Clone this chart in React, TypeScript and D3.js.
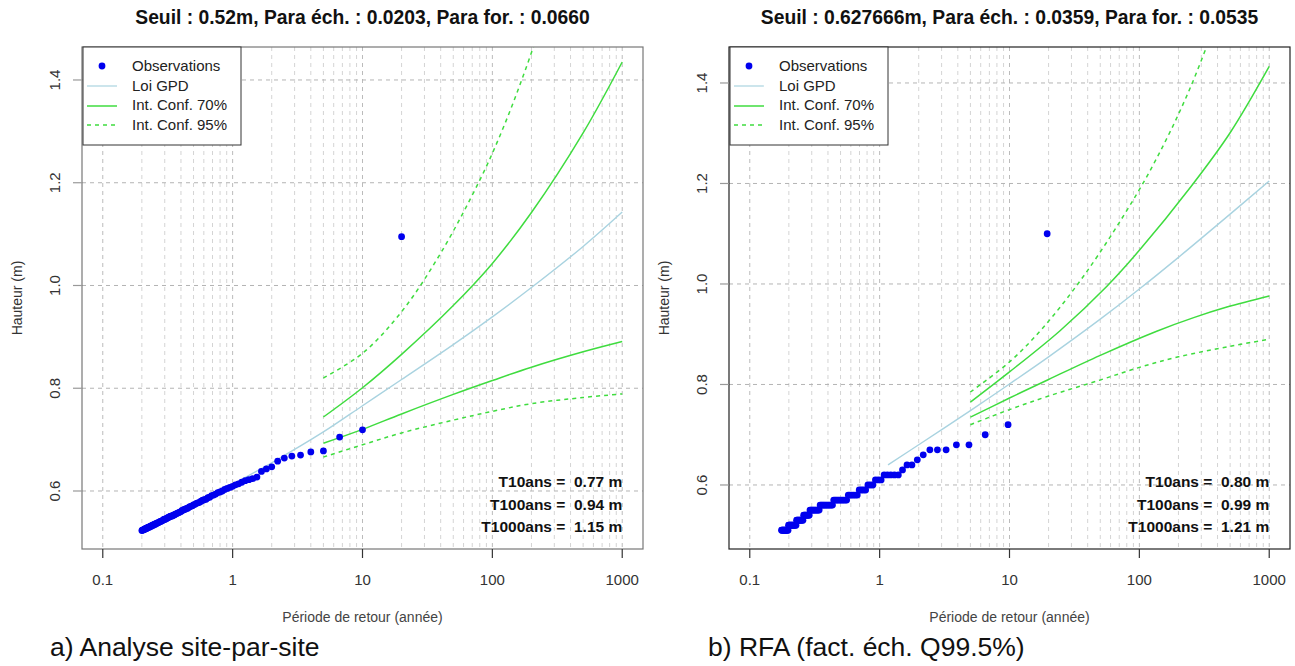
import React from "react";
import * as d3 from "d3";

const W = 1295;
const H = 666;

// axis ticks
const xTicks = [0.1, 1, 10, 100, 1000];
const xTickLabels = ["0.1", "1", "10", "100", "1000"];
const yTicks = [0.6, 0.8, 1.0, 1.2, 1.4];
const yTickLabels = ["0.6", "0.8", "1.0", "1.2", "1.4"];

// ---------- panel a : site-par-site ----------
const titleA = "Seuil : 0.52m, Para éch. : 0.0203, Para for. : 0.0660";
const captionA = "a) Analyse site-par-site";
const yearsA = 20;
const obsA = [
  1.095, 0.719, 0.705, 0.678, 0.676, 0.670, 0.668, 0.664, 0.658, 0.647,
  0.643, 0.638, 0.627, 0.624, 0.622, 0.620, 0.617, 0.614, 0.612, 0.609,
  0.607, 0.605, 0.603, 0.600, 0.598, 0.597, 0.594, 0.592, 0.591, 0.588,
  0.587, 0.584, 0.583, 0.582, 0.580, 0.578, 0.577, 0.576, 0.574, 0.573,
  0.571, 0.570, 0.569, 0.567, 0.566, 0.565, 0.564, 0.563, 0.562, 0.560,
  0.559, 0.558, 0.557, 0.556, 0.555, 0.554, 0.553, 0.552, 0.551, 0.551,
  0.550, 0.549, 0.548, 0.547, 0.546, 0.545, 0.545, 0.544, 0.543, 0.542,
  0.541, 0.541, 0.540, 0.539, 0.538, 0.538, 0.537, 0.536, 0.536, 0.535,
  0.534, 0.534, 0.533, 0.532, 0.532, 0.531, 0.530, 0.530, 0.529, 0.529,
  0.528, 0.527, 0.527, 0.526, 0.526, 0.525, 0.525, 0.524, 0.524, 0.523,
];
const gpdA_T = [0.2, 0.5, 1, 2, 5, 10, 20, 50, 100, 200, 500, 1000];
const gpdA = [0.524, 0.57, 0.613, 0.655, 0.715, 0.766, 0.817, 0.885, 0.939, 0.996, 1.076, 1.143];
const up70A_T = [5, 10, 20, 50, 100, 200, 500, 1000];
const up70A = [0.744, 0.801, 0.866, 0.961, 1.043, 1.142, 1.297, 1.435];
const lo70A_T = [5, 10, 20, 50, 100, 200, 500, 1000];
const lo70A = [0.693, 0.72, 0.75, 0.788, 0.815, 0.841, 0.871, 0.891];
const up95A_T = [5, 10, 20, 40, 80, 115, 160, 214, 250];
const up95A = [0.82, 0.868, 0.949, 1.063, 1.205, 1.293, 1.385, 1.475, 1.528];
const lo95A_T = [5, 10, 20, 50, 100, 200, 500, 1000];
const lo95A = [0.666, 0.69, 0.713, 0.738, 0.755, 0.77, 0.782, 0.789];
const annotA = ["T10ans =  0.77 m", "T100ans =  0.94 m", "T1000ans =  1.15 m"];

// ---------- panel b : RFA ----------
const titleB = "Seuil : 0.627666m, Para éch. : 0.0359, Para for. : 0.0535";
const captionB = "b) RFA (fact. éch. Q99.5%)";
const yearsB = 19.5;
const obsB = [
  1.10, 0.72, 0.70, 0.68, 0.68, 0.67, 0.67, 0.67, 0.66, 0.65,
  0.64, 0.64, 0.63, 0.62, 0.62, 0.62, 0.62, 0.62, 0.61, 0.61,
  0.61, 0.60, 0.60, 0.60, 0.59, 0.59, 0.59, 0.59, 0.58, 0.58,
  0.58, 0.58, 0.58, 0.58, 0.57, 0.57, 0.57, 0.57, 0.57, 0.57,
  0.57, 0.57, 0.57, 0.57, 0.56, 0.56, 0.56, 0.56, 0.56, 0.56,
  0.56, 0.56, 0.56, 0.56, 0.56, 0.56, 0.55, 0.55, 0.55, 0.55,
  0.55, 0.55, 0.55, 0.55, 0.55, 0.55, 0.55, 0.54, 0.54, 0.54,
  0.54, 0.54, 0.54, 0.54, 0.54, 0.53, 0.53, 0.53, 0.53, 0.53,
  0.53, 0.53, 0.53, 0.53, 0.53, 0.52, 0.52, 0.52, 0.52, 0.52,
  0.52, 0.52, 0.52, 0.52, 0.52, 0.52, 0.52, 0.52, 0.51, 0.51,
  0.51, 0.51, 0.51, 0.51, 0.51, 0.51, 0.51, 0.51, 0.51, 0.51,
  0.51,
];
const gpdB_T = [1.16, 2, 5, 10, 20, 50, 100, 200, 500, 1000];
const gpdB = [0.64, 0.68, 0.748, 0.801, 0.855, 0.93, 0.99, 1.053, 1.139, 1.205];
const up70B_T = [5, 10, 24.5, 56, 100, 250, 500, 1000];
const up70B = [0.765, 0.825, 0.907, 0.995, 1.067, 1.194, 1.301, 1.433];
const lo70B_T = [5, 10, 20, 50, 136, 262, 472, 1000];
const lo70B = [0.735, 0.773, 0.81, 0.858, 0.906, 0.933, 0.954, 0.976];
const up95B_T = [5, 10, 17.7, 38, 95, 163, 250, 350];
const up95B = [0.785, 0.845, 0.91, 1.019, 1.178, 1.29, 1.394, 1.49];
const lo95B_T = [5, 10, 20, 50, 100, 200, 500, 1000];
const lo95B = [0.72, 0.75, 0.777, 0.809, 0.834, 0.855, 0.876, 0.89];
const annotB = ["T10ans =  0.80 m", "T100ans =  0.99 m", "T1000ans =  1.21 m"];

const legendLabels = ["Observations", "Loi GPD", "Int. Conf. 70%", "Int. Conf. 95%"];

const BLUE = "#0000ee";
const LIGHTBLUE = "#a9d3e0";
const GREEN = "#3fdc3f";
const FONT = "'Liberation Sans', Arial, sans-serif";

type PanelProps = {
  id: string;
  left: number;
  right: number;
  yLo: number;
  yHi: number;
  title: string;
  caption: string;
  captionX: number;
  years: number;
  obs: number[];
  gpdT: number[];
  gpd: number[];
  up70T: number[];
  up70: number[];
  lo70T: number[];
  lo70: number[];
  up95T: number[];
  up95: number[];
  lo95T: number[];
  lo95: number[];
  annot: string[];
  boxColor: string;
};

const TOP = 47;
const BOTTOM = 549;

function Panel(p: PanelProps) {
  const x = d3
    .scaleLog()
    .domain([Math.pow(10, -1.16), Math.pow(10, 3.16)])
    .range([p.left, p.right]);
  const y = d3.scaleLinear().domain([p.yLo, p.yHi]).range([BOTTOM, TOP]);
  const line = d3
    .line<[number, number]>()
    .x((d) => x(d[0]))
    .y((d) => y(d[1]))
    .curve(d3.curveCatmullRom.alpha(0.5));
  const pts = (ts: number[], vs: number[]) => ts.map((t, i) => [t, vs[i]] as [number, number]);

  const vGrid: number[] = [];
  [0.1, 1, 10, 100].forEach((d) => {
    for (let m = 1; m <= 9; m++) vGrid.push(d * m);
  });
  vGrid.push(1000);

  const cx = (p.left + p.right) / 2;
  const clipId = "clip-" + p.id;
  const lx = p.left + 1;

  return (
    <g fontFamily={FONT}>
      <defs>
        <clipPath id={clipId}>
          <rect x={p.left} y={TOP} width={p.right - p.left} height={BOTTOM - TOP} />
        </clipPath>
      </defs>
      <text x={cx} y={24} textAnchor="middle" fontWeight="bold" fontSize={19.3} fill="#111">
        {p.title}
      </text>
      {/* grid */}
      {vGrid.map((v) => (
        <line
          key={"vg" + v}
          x1={x(v)}
          x2={x(v)}
          y1={TOP}
          y2={BOTTOM}
          stroke={xTicks.includes(v) ? "#bbbbbb" : "#d4d4d4"}
          strokeWidth={1}
          strokeDasharray="4,4"
        />
      ))}
      {yTicks.map((v) => (
        <line
          key={"hg" + v}
          x1={p.left}
          x2={p.right}
          y1={y(v)}
          y2={y(v)}
          stroke="#b4b4b4"
          strokeWidth={1}
          strokeDasharray="4,4"
        />
      ))}
      {/* curves */}
      <g clipPath={`url(#${clipId})`} fill="none">
        <path d={line(pts(p.gpdT, p.gpd)) || ""} stroke={LIGHTBLUE} strokeWidth={1.4} />
        <path d={line(pts(p.up70T, p.up70)) || ""} stroke={GREEN} strokeWidth={1.5} />
        <path d={line(pts(p.lo70T, p.lo70)) || ""} stroke={GREEN} strokeWidth={1.5} />
        <path d={line(pts(p.up95T, p.up95)) || ""} stroke={GREEN} strokeWidth={1.5} strokeDasharray="4,4" />
        <path d={line(pts(p.lo95T, p.lo95)) || ""} stroke={GREEN} strokeWidth={1.5} strokeDasharray="4,4" />
      </g>
      {/* observations */}
      {p.obs.map((v, i) => (
        <circle key={"o" + i} cx={x(p.years / (i + 1))} cy={y(v)} r={3.4} fill={BLUE} />
      ))}
      {/* box */}
      <rect
        x={p.left}
        y={TOP}
        width={p.right - p.left}
        height={BOTTOM - TOP}
        fill="none"
        stroke={p.boxColor}
        strokeWidth={1.2}
      />
      {/* x axis */}
      {xTicks.map((v, i) => (
        <g key={"xt" + v}>
          <line x1={x(v)} x2={x(v)} y1={BOTTOM} y2={BOTTOM + 9} stroke="#333" strokeWidth={1.2} />
          <text x={x(v)} y={585} textAnchor="middle" fontSize={15} fill="#333">
            {xTickLabels[i]}
          </text>
        </g>
      ))}
      <text x={cx} y={622} textAnchor="middle" fontSize={14} fill="#444">
        Période de retour (année)
      </text>
      {/* y axis */}
      {yTicks.map((v, i) => (
        <g key={"yt" + v}>
          <line x1={p.left - 9} x2={p.left} y1={y(v)} y2={y(v)} stroke="#999" strokeWidth={1.2} />
          <text
            transform={`translate(${p.left - 22},${y(v)}) rotate(-90)`}
            textAnchor="middle"
            fontSize={15}
            fill="#333"
          >
            {yTickLabels[i]}
          </text>
        </g>
      ))}
      <text
        transform={`translate(${p.left - 60},${(TOP + BOTTOM) / 2}) rotate(-90)`}
        textAnchor="middle"
        fontSize={14}
        fill="#333"
      >
        Hauteur (m)
      </text>
      {/* legend */}
      <rect x={lx} y={TOP} width={158} height={98} fill="white" stroke="#333" strokeWidth={1} />
      <circle cx={lx + 19} cy={66} r={3.4} fill={BLUE} />
      <line x1={lx + 4} x2={lx + 34} y1={86} y2={86} stroke={LIGHTBLUE} strokeWidth={1.2} />
      <line x1={lx + 4} x2={lx + 34} y1={106} y2={106} stroke={GREEN} strokeWidth={1.5} />
      <line x1={lx + 4} x2={lx + 34} y1={125} y2={125} stroke={GREEN} strokeWidth={1.5} strokeDasharray="4,4" />
      {legendLabels.map((t, i) => (
        <text key={"lg" + i} x={lx + 49} y={71 + i * 19.6} fontSize={15} fill="#222">
          {t}
        </text>
      ))}
      {/* annotations */}
      {p.annot.map((t, i) => (
        <text
          key={"an" + i}
          x={x(1000)}
          y={487 + i * 22.5}
          textAnchor="end"
          fontSize={15.5}
          fontWeight="bold"
          fill="#111"
          style={{ whiteSpace: "pre" }}
        >
          {t}
        </text>
      ))}
      {/* caption */}
      <text x={p.captionX} y={656} fontSize={26.5} fill="#111">
        {p.caption}
      </text>
    </g>
  );
}

export default function App() {
  return (
    <svg
      width={W}
      height={H}
      viewBox={`0 0 ${W} ${H}`}
      style={{ position: "absolute", left: 0, top: 0, background: "white" }}
    >
      <rect x={0} y={0} width={W} height={H} fill="white" />
      <Panel
        id="a"
        left={82}
        right={643}
        yLo={0.4871}
        yHi={1.4642}
        title={titleA}
        caption={captionA}
        captionX={50}
        years={yearsA}
        obs={obsA}
        gpdT={gpdA_T}
        gpd={gpdA}
        up70T={up70A_T}
        up70={up70A}
        lo70T={lo70A_T}
        lo70={lo70A}
        up95T={up95A_T}
        up95={up95A}
        lo95T={lo95A_T}
        lo95={lo95A}
        annot={annotA}
        boxColor="#777"
      />
      <Panel
        id="b"
        left={729}
        right={1290}
        yLo={0.4726}
        yHi={1.4716}
        title={titleB}
        caption={captionB}
        captionX={708}
        years={yearsB}
        obs={obsB}
        gpdT={gpdB_T}
        gpd={gpdB}
        up70T={up70B_T}
        up70={up70B}
        lo70T={lo70B_T}
        lo70={lo70B}
        up95T={up95B_T}
        up95={up95B}
        lo95T={lo95B_T}
        lo95={lo95B}
        annot={annotB}
        boxColor="#222"
      />
    </svg>
  );
}
